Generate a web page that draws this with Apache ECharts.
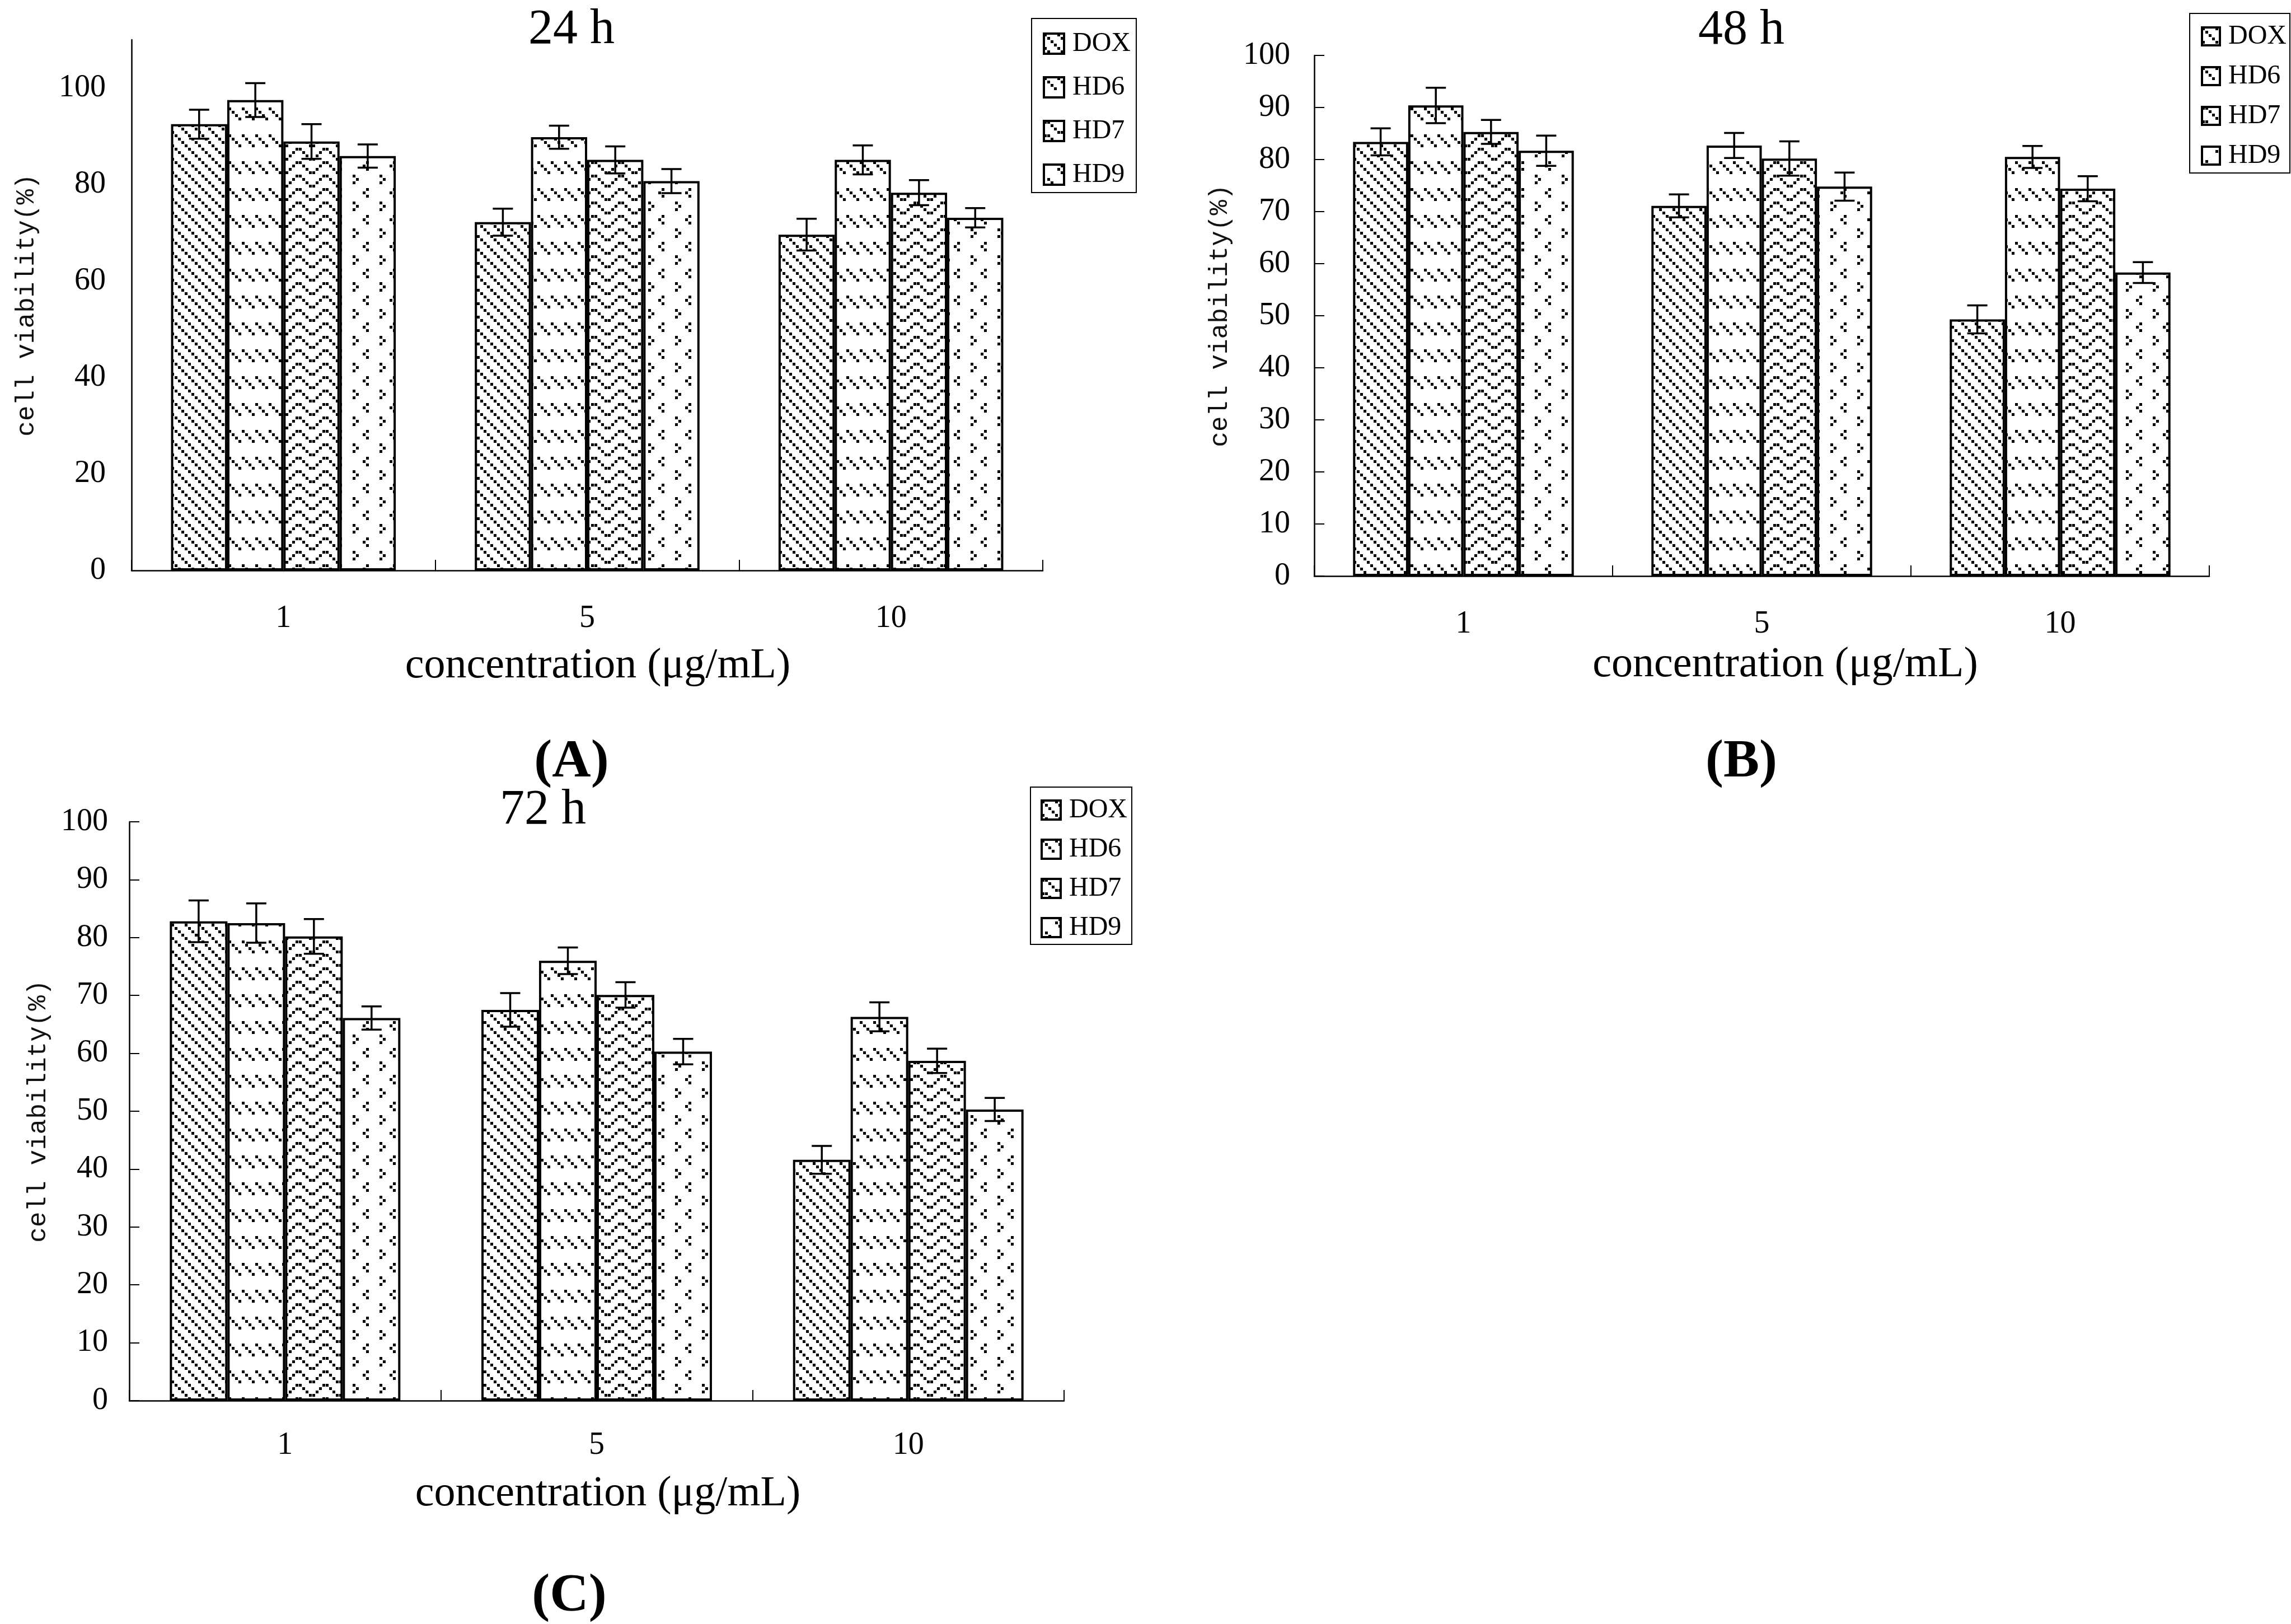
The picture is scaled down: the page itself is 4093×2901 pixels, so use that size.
<!DOCTYPE html>
<html>
<head>
<meta charset="utf-8">
<script src="https://cdn.jsdelivr.net/npm/echarts@6/dist/echarts.min.js"></script>
<style>html,body{margin:0;padding:0;background:#fff;}#c{width:4093px;height:2901px;}</style>
</head>
<body>
<div id="c"></div>
<script>
// ---------- data ----------
const categories = ['1', '5', '10'];
const seriesNames = ['DOX', 'HD6', 'HD7', 'HD9'];
const panelTitles = ['24 h', '48 h', '72 h'];
const panelLetters = ['(A)', '(B)', '(C)'];
const xAxisName = 'concentration (μg/mL)';
const yAxisName = 'cell viability(%)';

// 24 h
const dox24 = [92.5, 72.2, 69.6];
const hd6_24 = [97.5, 89.8, 85.1];
const hd7_24 = [88.9, 85.1, 78.3];
const hd9_24 = [85.9, 80.7, 73.1];
const dox24Err = [3.0, 2.8, 3.3];
const hd6_24Err = [3.5, 2.4, 3.0];
const hd7_24Err = [3.6, 2.8, 2.6];
const hd9_24Err = [2.4, 2.5, 2.0];
// 48 h
const dox48 = [83.4, 71.1, 49.3];
const hd6_48 = [90.4, 82.7, 80.5];
const hd7_48 = [85.3, 80.2, 74.4];
const hd9_48 = [81.7, 74.8, 58.3];
const dox48Err = [2.6, 2.2, 2.7];
const hd6_48Err = [3.4, 2.4, 2.1];
const hd7_48Err = [2.3, 3.3, 2.4];
const hd9_48Err = [2.9, 2.7, 2.0];
// 72 h
const dox72 = [82.8, 67.5, 41.6];
const hd6_72 = [82.5, 76.0, 66.3];
const hd7_72 = [80.2, 70.1, 58.7];
const hd9_72 = [66.1, 60.3, 50.3];
const dox72Err = [3.6, 2.9, 2.4];
const hd6_72Err = [3.4, 2.3, 2.5];
const hd7_72Err = [3.0, 2.2, 2.1];
const hd9_72Err = [2.0, 2.2, 2.0];

// y axis ticks
const yMax = [110, 100, 100];
const yInterval = [20, 10, 10];

const panelMeans = [
  [dox24, hd6_24, hd7_24, hd9_24],
  [dox48, hd6_48, hd7_48, hd9_48],
  [dox72, hd6_72, hd7_72, hd9_72]
];
const panelErrs = [
  [dox24Err, hd6_24Err, hd7_24Err, hd9_24Err],
  [dox48Err, hd6_48Err, hd7_48Err, hd9_48Err],
  [dox72Err, hd6_72Err, hd7_72Err, hd9_72Err]
];

// ---------- styles ----------
function makePattern(cols, rows, cells) {
  const cell = 6, dot = 5;
  const c = document.createElement('canvas');
  c.width = cols * cell; c.height = rows * cell;
  const ctx = c.getContext('2d');
  ctx.fillStyle = '#fff'; ctx.fillRect(0, 0, c.width, c.height);
  ctx.fillStyle = '#000';
  cells.forEach(p => ctx.fillRect(p[0] * cell, p[1] * cell, dot, dot));
  return { image: c, repeat: 'repeat' };
}
const patterns = [
  makePattern(4, 4, [[0,0],[1,1],[2,2],[3,3]]),
  makePattern(4, 8, [[0,0],[1,1],[2,2],[3,3]]),
  makePattern(8, 4, [[0,0],[1,0],[2,1],[7,1],[3,2],[6,2],[4,3],[5,3]]),
  makePattern(8, 8, [[5,0],[4,1],[5,2],[1,4],[2,5],[1,6]])
];

const GAP = 0.26;
const serif = '"Liberation Serif", "Times New Roman", serif';
const mono = '"Liberation Mono", monospace';

const grids = [
  { left: 235, top: 71, width: 1628, height: 948 },
  { left: 2348, top: 99, width: 1599, height: 930 },
  { left: 231, top: 1468, width: 1670, height: 1034 }
];
const xLabelMargin = [58, 58, 52];
const xNameGap = [171, 159, 167];
const xNamePad = [38, 84, 40];
const yLabelMargin = [46, 43, 38];
const yNameGap = [187, 168, 162];
const yTickShow = [false, true, true];
const legendPos = [
  { left: 1843, top: 33, padding: [21, 10, 8, 20], itemGap: 30, size: 36 },
  { left: 3912, top: 24, padding: [17, 6, 7, 20], itemGap: 23, size: 32 },
  { left: 1841, top: 1406, padding: [17, 8, 6, 18], itemGap: 22, size: 34 }
];
const titlePos = [[1021, 54], [3111, 55], [970, 1448]];
const letterPos = [[1021, 1362], [3111, 1362], [1017, 2852]];

const xAxes = [], yAxes = [], series = [], legends = [], graphics = [];

for (let p = 0; p < 3; p++) {
  xAxes.push({
    type: 'category', gridIndex: p, data: categories,
    axisLine: { lineStyle: { color: '#000', width: 2.5 } },
    axisTick: { show: true, inside: true, length: 19, lineStyle: { color: '#000', width: 2 } },
    axisLabel: { fontFamily: serif, fontSize: 56, color: '#000', margin: xLabelMargin[p] },
    splitLine: { show: false },
    name: xAxisName, nameLocation: 'middle', nameGap: xNameGap[p],
    nameTextStyle: { fontFamily: serif, fontSize: 76, color: '#000', verticalAlign: 'middle', padding: [0, 0, 0, xNamePad[p]] }
  });
  yAxes.push({
    type: 'value', gridIndex: p, min: 0, max: yMax[p], interval: yInterval[p],
    axisLine: { show: true, lineStyle: { color: '#000', width: 2.5 } },
    axisTick: { show: yTickShow[p], inside: true, length: 18, lineStyle: { color: '#000', width: 2 } },
    axisLabel: { fontFamily: serif, fontSize: 56, color: '#000', margin: yLabelMargin[p],
      formatter: v => (v > 100 ? '' : String(v)) },
    splitLine: { show: false },
    name: yAxisName, nameLocation: 'middle', nameGap: yNameGap[p],
    nameTextStyle: { fontFamily: mono, fontSize: 46, color: '#111', verticalAlign: 'middle' }
  });
  for (let s = 0; s < 4; s++) {
    series.push({
      type: 'bar', name: seriesNames[s], xAxisIndex: p, yAxisIndex: p,
      data: panelMeans[p][s], barGap: '0%', barCategoryGap: (GAP * 100) + '%',
      itemStyle: { color: patterns[s], borderColor: '#000', borderWidth: 4 },
      z: 2, silent: true
    });
  }
  const errData = [];
  for (let s = 0; s < 4; s++) {
    for (let c = 0; c < categories.length; c++) {
      errData.push([c, panelMeans[p][s][c], panelErrs[p][s][c], s]);
    }
  }
  series.push({
    type: 'custom', name: 'error', xAxisIndex: p, yAxisIndex: p,
    data: errData, encode: { x: 0, y: 1 }, z: 5, silent: true,
    renderItem: function (params, api) {
      const c = api.value(0), v = api.value(1), e = api.value(2), s = api.value(3);
      const band = api.size([1, 0])[0];
      const groupW = band * (1 - GAP);
      const bw = groupW / 4;
      const cx = api.coord([c, 0])[0] - groupW / 2 + (s + 0.5) * bw;
      const yT = api.coord([c, v + e])[1];
      const yB = api.coord([c, v - e])[1];
      const hw = 18;
      const st = { stroke: '#000', lineWidth: 3.5 };
      return {
        type: 'group', children: [
          { type: 'line', shape: { x1: cx, y1: yT, x2: cx, y2: yB }, style: st },
          { type: 'line', shape: { x1: cx - hw, y1: yT, x2: cx + hw, y2: yT }, style: st },
          { type: 'line', shape: { x1: cx - hw, y1: yB, x2: cx + hw, y2: yB }, style: st }
        ]
      };
    }
  });
  const lp = legendPos[p];
  legends.push({
    orient: 'vertical', left: lp.left, top: lp.top, padding: lp.padding, itemGap: lp.itemGap,
    itemWidth: lp.size, itemHeight: lp.size, selectedMode: false,
    data: seriesNames.map(n => ({ name: n, icon: 'rect' })),
    itemStyle: { borderColor: '#000', borderWidth: 4 },
    textStyle: { fontFamily: serif, fontSize: 48, color: '#000', padding: [0, 0, 0, 10] },
    borderColor: '#000', borderWidth: 2, backgroundColor: '#fff'
  });
  graphics.push({
    type: 'text', x: titlePos[p][0], y: titlePos[p][1],
    style: { text: panelTitles[p], font: '88px ' + serif, fill: '#000', align: 'center', verticalAlign: 'middle', textAlign: 'center', textVerticalAlign: 'middle' }
  });
  graphics.push({
    type: 'text', x: letterPos[p][0], y: letterPos[p][1],
    style: { text: panelLetters[p], font: 'bold 96px ' + serif, fill: '#000', align: 'center', verticalAlign: 'middle', textAlign: 'center', textVerticalAlign: 'middle' }
  });
}

const chart = echarts.init(document.getElementById('c'), null, { renderer: 'canvas' });
chart.setOption({
  backgroundColor: '#fff',
  animation: false,
  grid: grids,
  xAxis: xAxes,
  yAxis: yAxes,
  legend: legends,
  series: series,
  graphic: graphics
});
</script>
</body>
</html>
